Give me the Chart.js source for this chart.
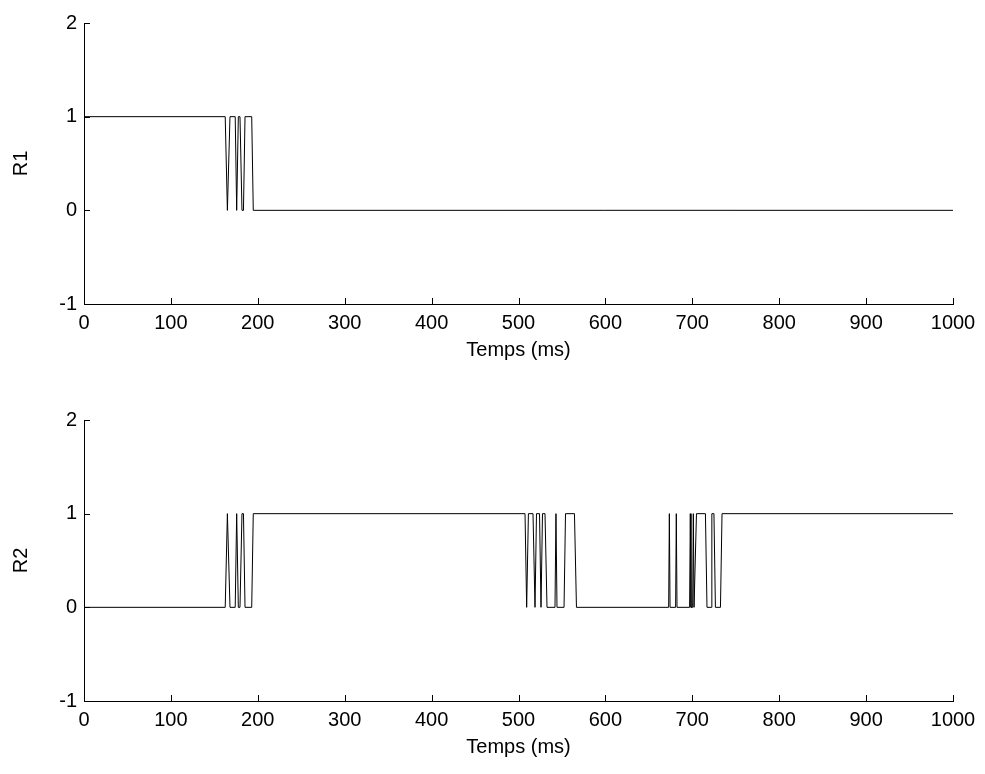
<!DOCTYPE html>
<html>
<head>
<meta charset="utf-8">
<script src="https://cdn.jsdelivr.net/npm/chart.js@4/dist/chart.umd.min.js"></script>
<style>
  html, body { margin: 0; padding: 0; background: #fff; overflow: hidden; }
  .panel { position: absolute; left: 0; width: 985px; height: 377px; }
</style>
</head>
<body>
<div class="panel" style="top:0"><canvas id="r1"></canvas></div>
<div class="panel" style="top:397px"><canvas id="r2"></canvas></div>
<script>
// breakpoints (time in ms, state 0/1)
const r1Time  = [0, 162.5, 165, 165.5, 168, 174, 175.7, 177.6, 179.5, 181.8, 183.5, 185.3, 193, 194.8, 1000];
const r1Value = [1, 1,     0,   0,     1,   1,   0,     1,     1,     0,     0,     1,     1,   0,     0];

const r2Time = [0, 162.5, 165, 165.5, 168, 174, 175.7, 177.6, 179.5, 181.8, 183.5, 185.3, 193, 194.8,
  507.5, 509.4, 511.4, 516.7, 519, 520.7, 524.2, 525.9, 527.6, 530.5, 532.8, 542, 543.1, 544.3, 552.4, 554.1, 564.4, 566.7,
  672.8, 673.6, 674.4, 680.8, 681.6, 682.4, 696.9, 697.7, 698.5, 700.4, 701.2, 702, 704.8, 715.1, 716.9,
  721.7, 722.5, 724.9, 726.6, 732.4, 734.2, 1000];
const r2Value = [0, 0, 1, 1, 0, 0, 1, 0, 0, 1, 1, 0, 0, 1,
  1, 0, 1, 1, 0, 1, 1, 0, 1, 1, 0, 0, 1, 0, 0, 1, 1, 0,
  0, 1, 0, 0, 1, 0, 0, 1, 0, 0, 1, 0, 1, 1, 0,
  0, 1, 1, 0, 0, 1, 1];

const xTicks = [0, 100, 200, 300, 400, 500, 600, 700, 800, 900, 1000];
const yTicks = [-1, 0, 1, 2];
const xLabel = 'Temps (ms)';

const FONT = { family: '"Liberation Sans", Arial, Helvetica, sans-serif', size: 20 };
Chart.defaults.color = '#000';

// MATLAB-like inward tick marks
const inwardTicks = {
  id: 'inwardTicks',
  afterDraw(chart) {
    const ctx = chart.ctx, x = chart.scales.x, y = chart.scales.y;
    const len = 6;
    ctx.save();
    ctx.strokeStyle = '#000';
    ctx.lineWidth = 1;
    ctx.beginPath();
    xTicks.forEach(v => {
      const px = Math.round(x.getPixelForValue(v)) + 0.5;
      ctx.moveTo(px, y.bottom);
      ctx.lineTo(px, y.bottom - len);
    });
    yTicks.forEach(v => {
      const py = Math.round(y.getPixelForValue(v)) + 0.5;
      ctx.moveTo(x.left, py);
      ctx.lineTo(x.left + len, py);
    });
    ctx.stroke();
    ctx.restore();
  }
};

function makeChart(id, times, values, name) {
  const ctx = document.getElementById(id).getContext('2d');
  return new Chart(ctx, {
    type: 'line',
    data: {
      datasets: [{
        data: times.map((t, i) => ({ x: t, y: values[i] })),
        borderColor: '#000',
        borderWidth: 1,
        pointRadius: 0,
        tension: 0,
        fill: false
      }]
    },
    options: {
      responsive: true,
      maintainAspectRatio: false,
      animation: false,
      events: [],
      layout: { padding: { top: 23, right: 32, left: 0, bottom: 0 } },
      plugins: { legend: { display: false }, tooltip: { enabled: false } },
      scales: {
        x: {
          type: 'linear', min: 0, max: 1000,
          afterBuildTicks: s => { s.ticks = xTicks.map(v => ({ value: v })); },
          afterFit: s => { s.height = 73; },
          grid: { display: false, drawTicks: false },
          border: { display: true, color: '#000', width: 1 },
          ticks: { font: FONT, padding: 7, maxRotation: 0, callback: v => String(v) },
          title: { display: true, text: xLabel, font: FONT, padding: { top: 0, bottom: 15 } }
        },
        y: {
          type: 'linear', min: -1, max: 2,
          afterBuildTicks: s => { s.ticks = yTicks.map(v => ({ value: v })); },
          afterFit: s => { s.width = 84; },
          grid: { display: false, drawTicks: false },
          border: { display: true, color: '#000', width: 1 },
          ticks: { font: FONT, padding: 7, callback: v => String(v) },
          title: { display: true, text: name, font: FONT, padding: { top: 9, bottom: 0 } }
        }
      }
    },
    plugins: [inwardTicks]
  });
}

makeChart('r1', r1Time, r1Value, 'R1');
makeChart('r2', r2Time, r2Value, 'R2');
</script>
</body>
</html>
